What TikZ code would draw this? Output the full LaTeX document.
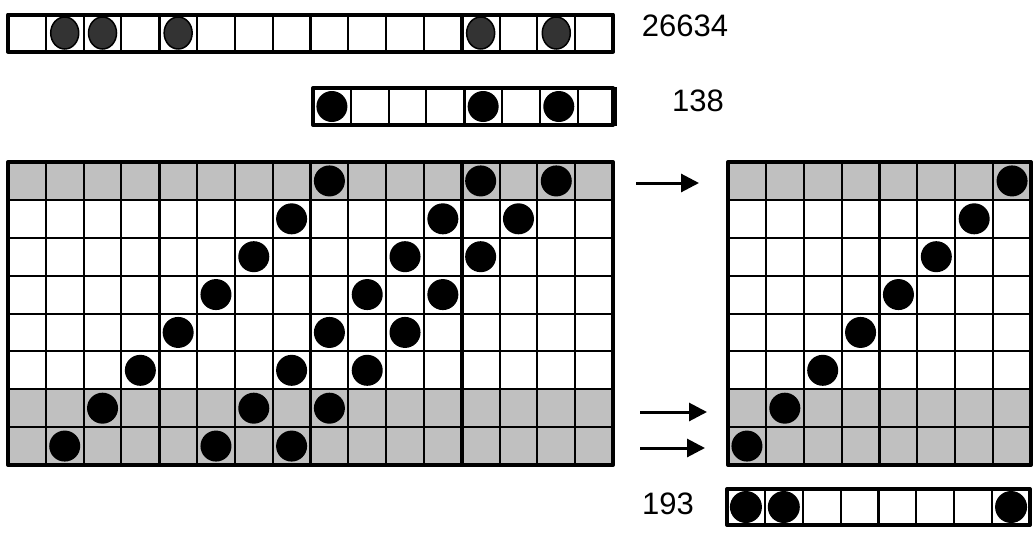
\documentclass[tikz,border=0pt]{standalone}
\usepackage{fontspec}
\setmainfont{Liberation Sans}
\usetikzlibrary{arrows.meta,shapes.geometric}
\definecolor{cellgray}{HTML}{C0C0C0}
\definecolor{dotgray}{HTML}{333333}
\begin{document}
\begin{tikzpicture}[x=1pt,y=-1pt,
  thinline/.style={line width=2pt, draw=black},
  thickline/.style={line width=3.5pt, draw=black},
  outline/.style={line width=4pt, draw=black, line join=round},
  graycell/.style={fill=cellgray},
  dot/.style={circle, fill=black, inner sep=0pt, minimum size=31pt},
  greydot/.style={ellipse, fill=dotgray, draw=black, line width=1.5pt, inner sep=0pt, minimum width=28pt, minimum height=32pt},
  lbl/.style={font=\fontsize{31}{37}\selectfont, inner sep=0pt},
  arr/.style={line width=3pt, -{Triangle[length=18pt,width=18pt]}}]
\useasboundingbox (0,0) rectangle (1036,533);
\pgfmathsetmacro{\cw}{37.8125}
\pgfmathsetmacro{\rh}{37.875}
% ---------- top row: 26634 ----------
\foreach \i in {0,...,15}
  \draw[thinline] ({8+\i*\cw},14.5) rectangle ++(\cw,37);
\foreach \i in {4,8,12}
  \draw[thickline] ({8+\i*\cw},14.5) -- ++(0,37);
\draw[outline] (8,14.5) rectangle (613,51.5);
\foreach \c in {2,3,5,13,15}
  \node[greydot] (t\c) at ({8+(\c-0.5)*\cw},33) {};
\node[lbl] (l26634) at (685,26) {26634};
% ---------- middle row: 138 ----------
\foreach \i in {0,...,7}
  \draw[thinline] ({313+\i*\cw},88) rectangle ++(\cw,37);
\draw[thickline] ({313+4*\cw},88) -- ++(0,37);
\draw[outline] (313,88) rectangle (613,125);
\foreach \c in {1,5,7}
  \node[dot] (m\c) at ({313+(\c-0.5)*\cw},106.5) {};
\node[lbl] (l138) at (698,101) {138};
% ---------- big grid ----------
\foreach \r in {1,7,8}
  \fill[graycell] (8,{162+(\r-1)*\rh}) rectangle (613,{162+\r*\rh});
\foreach \r in {0,...,7}
  \foreach \i in {0,...,15}
    \draw[thinline] ({8+\i*\cw},{162+\r*\rh}) rectangle ++(\cw,\rh);
\foreach \i in {4,8,12}
  \draw[thickline] ({8+\i*\cw},162) -- ++(0,303);
\draw[outline] (8,162) rectangle (613,465);
\foreach \r in {1,...,8}
  \foreach \c in {9,13,15}
    \node[dot] (g\r-\c) at ({8+(\c-\r+0.5)*\cw},{162+(\r-0.5)*\rh}) {};
% ---------- right grid ----------
\foreach \r in {1,7,8}
  \fill[graycell] (728,{162+(\r-1)*\rh}) rectangle (1031,{162+\r*\rh});
\foreach \r in {0,...,7}
  \foreach \i in {0,...,7}
    \draw[thinline] ({728+\i*37.875},{162+\r*\rh}) rectangle ++(37.875,\rh);
\draw[thickline] ({728+4*37.875},162) -- ++(0,303);
\draw[outline] (728,162) rectangle (1031,465);
\foreach \r in {1,...,8}
  \node[dot] (h\r) at ({728+(8.5-\r)*37.875},{162+(\r-0.5)*\rh}) {};
% ---------- bottom row: 193 ----------
\foreach \i in {0,...,7}
  \draw[thinline] ({727+\i*37.875},489) rectangle ++(37.875,36);
\draw[thickline] ({727+4*37.875},489) -- ++(0,36);
\draw[outline] (727,489) rectangle (1030,525);
\foreach \c in {1,2,8}
  \node[dot, minimum size=32pt] (b\c) at ({727+(\c-0.5)*37.875},507) {};
\node[lbl] (l193) at (668,504) {193};
% ---------- arrows ----------
\coordinate (a1s) at (636,183);
\coordinate (a1e) at (699,183);
\coordinate (a7s) at (640,412);
\coordinate (a7e) at (707,412);
\coordinate (a8s) at (640,448);
\coordinate (a8e) at (705,448);
\draw[arr] (a1s) -- (a1e);
\draw[arr] (a7s) -- (a7e);
\draw[arr] (a8s) -- (a8e);
\end{tikzpicture}
\end{document}
